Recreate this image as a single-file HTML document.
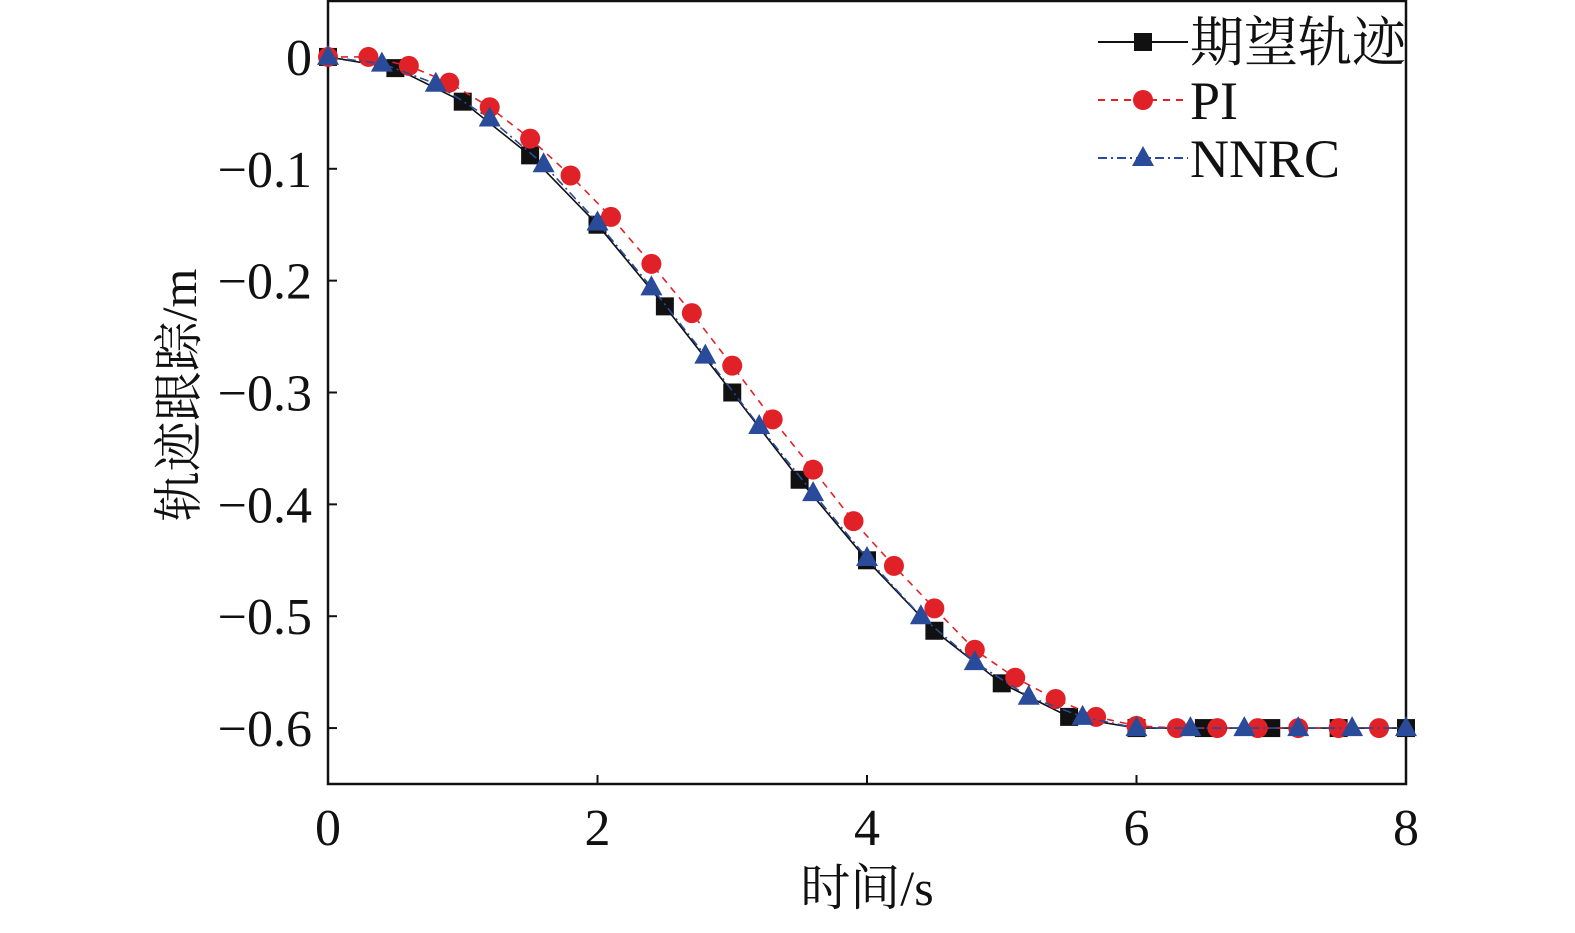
<!DOCTYPE html>
<html><head><meta charset="utf-8"><style>
body{margin:0;background:#fff;}
svg text{font-family:"Liberation Serif","Noto Serif CJK SC",serif;fill:#111;}
</style></head><body>
<svg id="chart" width="1575" height="928" viewBox="0 0 1575 928" xmlns="http://www.w3.org/2000/svg">
<g id="axes"></g><g id="series"></g><g id="legend"></g>
</svg>
<script>
const xTicks=[0,2,4,6,8];
const yTicks=[0,-0.1,-0.2,-0.3,-0.4,-0.5,-0.6];
const yTickLabels=["0","\u22120.1","\u22120.2","\u22120.3","\u22120.4","\u22120.5","\u22120.6"];
const desiredX=[0,0.5,1,1.5,2,2.5,3,3.5,4,4.5,5,5.5,6,6.5,7,7.5,8];
const desiredY=[0,-0.01,-0.04,-0.088,-0.15,-0.223,-0.3,-0.378,-0.45,-0.513,-0.56,-0.59,-0.6,-0.6,-0.6,-0.6,-0.6];
const piX=[0,0.3,0.6,0.9,1.2,1.5,1.8,2.1,2.4,2.7,3.0,3.3,3.6,3.9,4.2,4.5,4.8,5.1,5.4,5.7,6.0,6.3,6.6,6.9,7.2,7.5,7.8];
const piY=[0,0,-0.008,-0.023,-0.045,-0.073,-0.106,-0.143,-0.185,-0.229,-0.276,-0.324,-0.369,-0.415,-0.455,-0.493,-0.53,-0.555,-0.574,-0.59,-0.598,-0.6,-0.6,-0.6,-0.6,-0.6,-0.6];
const nnX=[0,0.4,0.8,1.2,1.6,2.0,2.4,2.8,3.2,3.6,4.0,4.4,4.8,5.2,5.6,6.0,6.4,6.8,7.2,7.6,8.0];
const nnY=[0,-0.006,-0.024,-0.055,-0.096,-0.148,-0.206,-0.267,-0.33,-0.39,-0.448,-0.5,-0.541,-0.572,-0.59,-0.6,-0.6,-0.6,-0.6,-0.6,-0.6];

const NS="http://www.w3.org/2000/svg";
const L=328,R=1406,T=1,B=784,xMin=0,xMax=8,yMin=-0.65,yMax=0.05;
const sx=v=>L+(v-xMin)/(xMax-xMin)*(R-L);
const sy=v=>B-(v-yMin)/(yMax-yMin)*(B-T);
function mk(tag,attrs,parent){const e=document.createElementNS(NS,tag);for(const k in attrs)e.setAttribute(k,attrs[k]);parent.appendChild(e);return e;}
const axes=document.getElementById('axes'),ser=document.getElementById('series'),leg=document.getElementById('legend');

let box=mk('rect',{x:L,y:T,width:R-L,height:B-T,fill:'none',stroke:'#111','stroke-width':2.5},axes);


xTicks.forEach(v=>{
 let t=mk('line',{x1:sx(v),x2:sx(v),y1:B,y2:B-9,stroke:'#111','stroke-width':2},axes);
 
 
 let tx=mk('text',{x:sx(v),y:845,'text-anchor':'middle','font-size':52},axes);tx.textContent=v;
 
 
});
yTicks.forEach((v,i)=>{
 let t=mk('line',{x1:L,x2:L+9,y1:sy(v),y2:sy(v),stroke:'#111','stroke-width':2},axes);
 
 
 let tx=mk('text',{x:312,y:sy(v)+18,'text-anchor':'end','font-size':52},axes);tx.textContent=yTickLabels[i];
 
 
});
let xt=mk('text',{x:867,y:905,'text-anchor':'middle','font-size':50},axes);xt.textContent='时间/s';


let yt=mk('text',{x:0,y:0,'text-anchor':'middle','font-size':50,transform:'translate(196,395) rotate(-90)'},axes);yt.textContent='轨迹跟踪/m';



function marker(type,x,y,color,parent){
 if(type==='sq') return mk('rect',{x:x-9,y:y-9,width:18,height:18,fill:color},parent);
 if(type==='ci') return mk('circle',{cx:x,cy:y,r:10,fill:color},parent);
 return mk('polygon',{points:`${x},${y-12} ${x-11},${y+8} ${x+11},${y+8}`,fill:color},parent);
}
const series=[
 {name:'desired',xs:desiredX,ys:desiredY,color:'#111',dash:'',m:'sq',label:'期望轨迹'},
 {name:'pi',xs:piX,ys:piY,color:'#e02228',dash:'7,6',m:'ci',label:'PI'},
 {name:'nnrc',xs:nnX,ys:nnY,color:'#2a4a9a',dash:'9,4,2,4',m:'tr',label:'NNRC'}
];
series.forEach((s,si)=>{
 const g=mk('g',{},ser);
 
 
 let p=mk('polyline',{points:s.xs.map((x,i)=>sx(x)+','+sy(s.ys[i])).join(' '),fill:'none',stroke:s.color,'stroke-width':1.6,'stroke-dasharray':s.dash},g);
 
 
 s.xs.forEach((x,i)=>{
  let m=marker(s.m,sx(x),sy(s.ys[i]),s.color,g);
  
  
 });
 const ly=42+si*58;
 const lg=mk('g',{},leg);
 
 
 mk('line',{x1:1098,x2:1188,y1:ly,y2:ly,stroke:s.color,'stroke-width':2,'stroke-dasharray':s.dash},lg);
 marker(s.m,1143,ly,s.color,lg);
 let lt=mk('text',{x:1190,y:ly+19,'font-size':54},lg);lt.textContent=s.label;
 
 
});
</script>
</body></html>
